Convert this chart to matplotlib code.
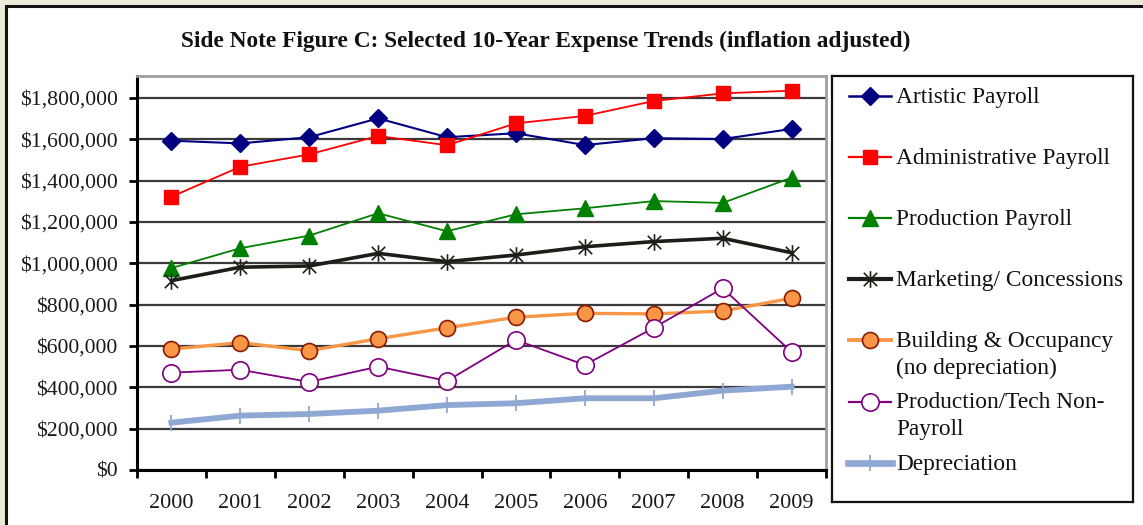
import matplotlib
matplotlib.use("Agg")
import matplotlib.pyplot as plt
from matplotlib.patches import Rectangle
from matplotlib.path import Path
from matplotlib.lines import Line2D
from matplotlib.ticker import FuncFormatter, FixedLocator

# ---------------- data ----------------
years = ["2000", "2001", "2002", "2003", "2004", "2005", "2006", "2007", "2008", "2009"]
artistic_payroll = [1593000, 1580000, 1610000, 1701000, 1610000, 1629000, 1572000, 1605000, 1601000, 1650000]
administrative_payroll = [1322000, 1467000, 1527000, 1616000, 1571000, 1677000, 1713000, 1785000, 1822000, 1835000]
production_payroll = [977000, 1073000, 1134000, 1242000, 1155000, 1237000, 1266000, 1301000, 1292000, 1414000]
marketing_concessions = [916000, 981000, 987000, 1048000, 1008000, 1040000, 1080000, 1105000, 1121000, 1051000]
building_occupancy = [585000, 616000, 577000, 635000, 688000, 739000, 758000, 755000, 769000, 831000]
production_tech_nonpayroll = [471000, 485000, 426000, 500000, 431000, 629000, 508000, 688000, 879000, 571000]
depreciation = [229000, 263000, 271000, 287000, 314000, 323000, 347000, 347000, 384000, 403000]
y_ticks = [0, 200000, 400000, 600000, 800000, 1000000, 1200000, 1400000, 1600000, 1800000]

labels = ["Artistic Payroll", "Administrative Payroll", "Production Payroll",
          "Marketing/ Concessions", "Building & Occupancy\n(no depreciation)",
          "Production/Tech Non-\nPayroll", "Depreciation"]
series = [artistic_payroll, administrative_payroll, production_payroll,
          marketing_concessions, building_occupancy, production_tech_nonpayroll, depreciation]

# asterisk marker (X plus vertical bar) like Excel's star
star = Path([(-1, -1), (1, 1), (-1, 1), (1, -1), (0, -1.25), (0, 1.25)],
            [Path.MOVETO, Path.LINETO, Path.MOVETO, Path.LINETO, Path.MOVETO, Path.LINETO])

styles = [
    dict(color="#000080", lw=1.5, marker="D", ms=9, mfc="#000080", mec="#000080", mew=1),
    dict(color="#FF0000", lw=1.3, marker="s", ms=10.5, mfc="#FF0000", mec="#FF0000", mew=1),
    dict(color="#008000", lw=1.3, marker="^", ms=11.5, mfc="#008000", mec="#008000", mew=1),
    dict(color="#1E1E18", lw=2.6, marker=star, ms=12, mfc="none", mec="#1E1E18", mew=1.2),
    dict(color="#F79646", lw=2.4, marker="o", ms=11.5, mfc="#F79646", mec="#8B1A00", mew=1.2),
    dict(color="#800080", lw=1.3, marker="o", ms=12.5, mfc="white", mec="#800080", mew=1.2),
    dict(color="#8EA7D3", lw=4.2, marker="|", ms=12, mfc="#8EA7D3", mec="#8EA7D3", mew=1.3),
]
legend_lw = [1.8, 1.6, 1.6, 3.0, 2.8, 1.6, 4.8]

W, H = 1143, 525
fig = plt.figure(figsize=(W / 100, H / 100), dpi=100)
fig.patch.set_facecolor("#ECE9D8")
bg = Rectangle((5.5 / W, -0.2), 2.0, 1.2 - 5.5 / H, transform=fig.transFigure,
               facecolor="white", edgecolor="#111111", lw=2.2, zorder=-10)
fig.patches.append(bg)

serif = ["Liberation Serif", "DejaVu Serif"]

fig.text(546 / W, 1 - 41 / H, "Side Note Figure C: Selected 10-Year Expense Trends (inflation adjusted)",
         ha="center", va="center", fontsize=16.8, fontweight="bold", family=serif, color="#111111")

# ---------------- plot area ----------------
L, R, T, B = 137, 826, 76, 470
ax = fig.add_axes([L / W, 1 - B / H, (R - L) / W, (B - T) / H])
ax.set_facecolor("white")
x = list(range(len(years)))
for vals, st in zip(series, styles):
    ax.plot(x, vals, zorder=3, clip_on=False, **st)

ax.set_xlim(-0.5, len(years) - 0.5)
ax.set_ylim(0, 1906000)
ax.yaxis.set_major_locator(FixedLocator(y_ticks))
ax.yaxis.set_major_formatter(FuncFormatter(lambda v, p: "${:,.0f}".format(v)))
ax.set_xticks(x)
ax.set_xticklabels(years)
ax.xaxis.set_minor_locator(FixedLocator([i - 0.5 for i in range(len(years) + 1)]))
ax.tick_params(axis="x", which="major", length=0, pad=17, labelsize=16)
ax.tick_params(axis="x", which="minor", length=6, width=2, color="black", direction="out")
ax.tick_params(axis="y", length=6, width=2, color="black", direction="out", pad=8, labelsize=15.7)
for lab in ax.get_xticklabels() + ax.get_yticklabels():
    lab.set_fontfamily(serif)
    lab.set_color("#1A1A1A")
ax.grid(axis="y", color="#3A3A3A", lw=1.6, zorder=1)
ax.set_axisbelow(True)
ax.spines["left"].set_color("black")
ax.spines["left"].set_linewidth(2.2)
ax.spines["bottom"].set_color("black")
ax.spines["bottom"].set_linewidth(2.2)
ax.spines["top"].set_color("#A0A0A0")
ax.spines["top"].set_linewidth(2)
ax.spines["right"].set_color("#A0A0A0")
ax.spines["right"].set_linewidth(2)

# ---------------- legend ----------------
LL, LR, LT, LB = 832, 1133, 76, 502
lax = fig.add_axes([LL / W, 1 - LB / H, (LR - LL) / W, (LB - LT) / H])
lax.set_xlim(0, LR - LL)
lax.set_ylim(LB - LT, 0)
lax.set_xticks([])
lax.set_yticks([])
for s in lax.spines.values():
    s.set_color("#111111")
    s.set_linewidth(1.6)
for i, (lab, st) in enumerate(zip(labels, styles)):
    yc = 20 + 61.1 * i
    x0, x1 = (17, 59) if i < 6 else (16, 60)
    lax.add_line(Line2D([x0, x1], [yc, yc], color=st["color"], lw=legend_lw[i]))
    lax.add_line(Line2D([38], [yc], linestyle="none", marker=st["marker"], ms=st["ms"],
                        mfc=st["mfc"], mec=st["mec"], mew=st["mew"]))
    for j, line in enumerate(lab.split("\n")):
        lax.text(64, yc + 1.5 + 27 * j, line, ha="left", va="center", fontsize=16.8,
                 family=serif, color="#111111")

fig.savefig("out.png", dpi=100, facecolor=fig.get_facecolor())
